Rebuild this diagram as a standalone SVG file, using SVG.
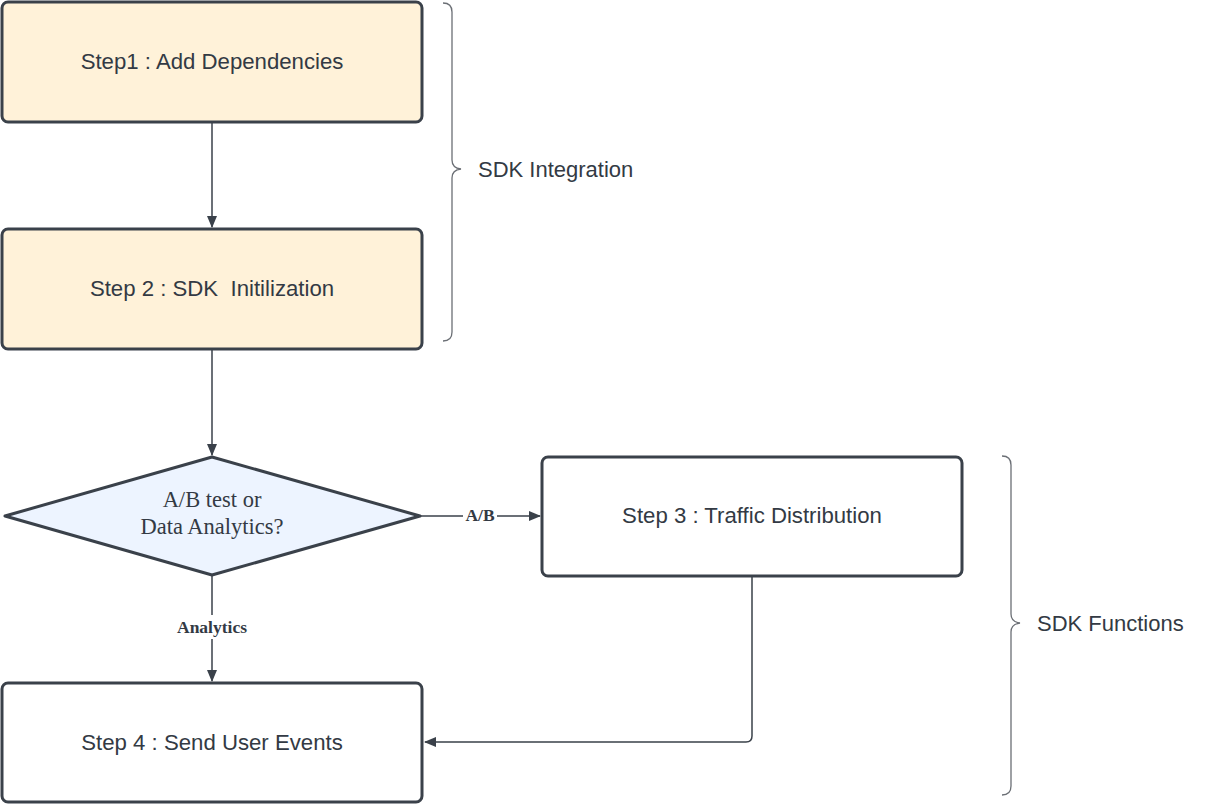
<svg xmlns="http://www.w3.org/2000/svg" width="1221" height="804" viewBox="0 0 1221 804">
<defs>
<marker id="arr" viewBox="0 0 12 12" refX="11" refY="6" markerWidth="12" markerHeight="12" markerUnits="userSpaceOnUse" orient="auto">
<path d="M0,1 L12,6 L0,11 Z" fill="#3a414a"/>
</marker>
<style>
.box{stroke:#3a414a;stroke-width:3}
.t{font-family:"Liberation Sans",Arial,sans-serif;font-size:22.2px;fill:#333a44;text-anchor:middle;dominant-baseline:central}
.s{font-family:"Liberation Serif","Times New Roman",serif;fill:#333a44;text-anchor:middle;dominant-baseline:central}
.lbl{font-weight:bold;font-size:17.5px}
.con{stroke:#3a414a;stroke-width:1.5;fill:none}
.brace{stroke:#6b6f75;stroke-width:1.3;fill:none}
.bt{font-family:"Liberation Sans",Arial,sans-serif;font-size:22px;fill:#333a44;dominant-baseline:central}
</style>
</defs>
<rect width="1221" height="804" fill="#ffffff"/>
<g id="connectors">
<line class="con" x1="212" y1="122" x2="212" y2="227" marker-end="url(#arr)"/>
<line class="con" x1="212" y1="349" x2="212" y2="455" marker-end="url(#arr)"/>
<line class="con" x1="212" y1="575" x2="212" y2="681" marker-end="url(#arr)"/>
<line class="con" x1="420" y1="516" x2="540" y2="516" marker-end="url(#arr)"/>
<path class="con" d="M752,576 V736 Q752,742 746,742 H425" marker-end="url(#arr)"/>
<rect x="174" y="615" width="76" height="24" fill="#ffffff"/>
<text class="s lbl" x="212" y="627">Analytics</text>
<rect x="463" y="505" width="34" height="22" fill="#ffffff"/>
<text class="s lbl" x="480" y="515">A/B</text>
</g>
<g id="step1">
<rect class="box" x="2" y="2" width="420" height="120" rx="6" fill="#fff2d9"/>
<text class="t" x="212" y="61">Step1 : Add Dependencies</text>
</g>
<g id="step2">
<rect class="box" x="2" y="229" width="420" height="120" rx="6" fill="#fff2d9"/>
<text class="t" x="212" y="288" xml:space="preserve">Step 2 : SDK  Initilization</text>
</g>
<g id="decision">
<path class="box" d="M212,457 L420,516 L212,575 L5,516 Z" stroke-linejoin="round" fill="#edf4ff"/>
<text class="s" x="212" y="499" font-size="22.5">A/B test or</text>
<text class="s" x="212" y="526" font-size="22.5">Data Analytics?</text>
</g>
<g id="step3">
<rect class="box" x="542" y="457" width="420" height="119" rx="6" fill="#ffffff"/>
<text class="t" x="752" y="515">Step 3 : Traffic Distribution</text>
</g>
<g id="step4">
<rect class="box" x="2" y="683" width="420" height="119" rx="6" fill="#ffffff"/>
<text class="t" x="212" y="742">Step 4 : Send User Events</text>
</g>
<g id="brace1">
<path class="brace" d="M443,3 Q452,3 452,12 V160 Q452,168 461,169 Q452,170 452,178 V332 Q452,341 443,341"/>
<text class="bt" x="478" y="169">SDK Integration</text>
</g>
<g id="brace2">
<path class="brace" d="M1002,456 Q1011,456 1011,465 V614 Q1011,622 1020,623 Q1011,624 1011,632 V786 Q1011,795 1002,795"/>
<text class="bt" x="1037" y="623">SDK Functions</text>
</g>
</svg>
